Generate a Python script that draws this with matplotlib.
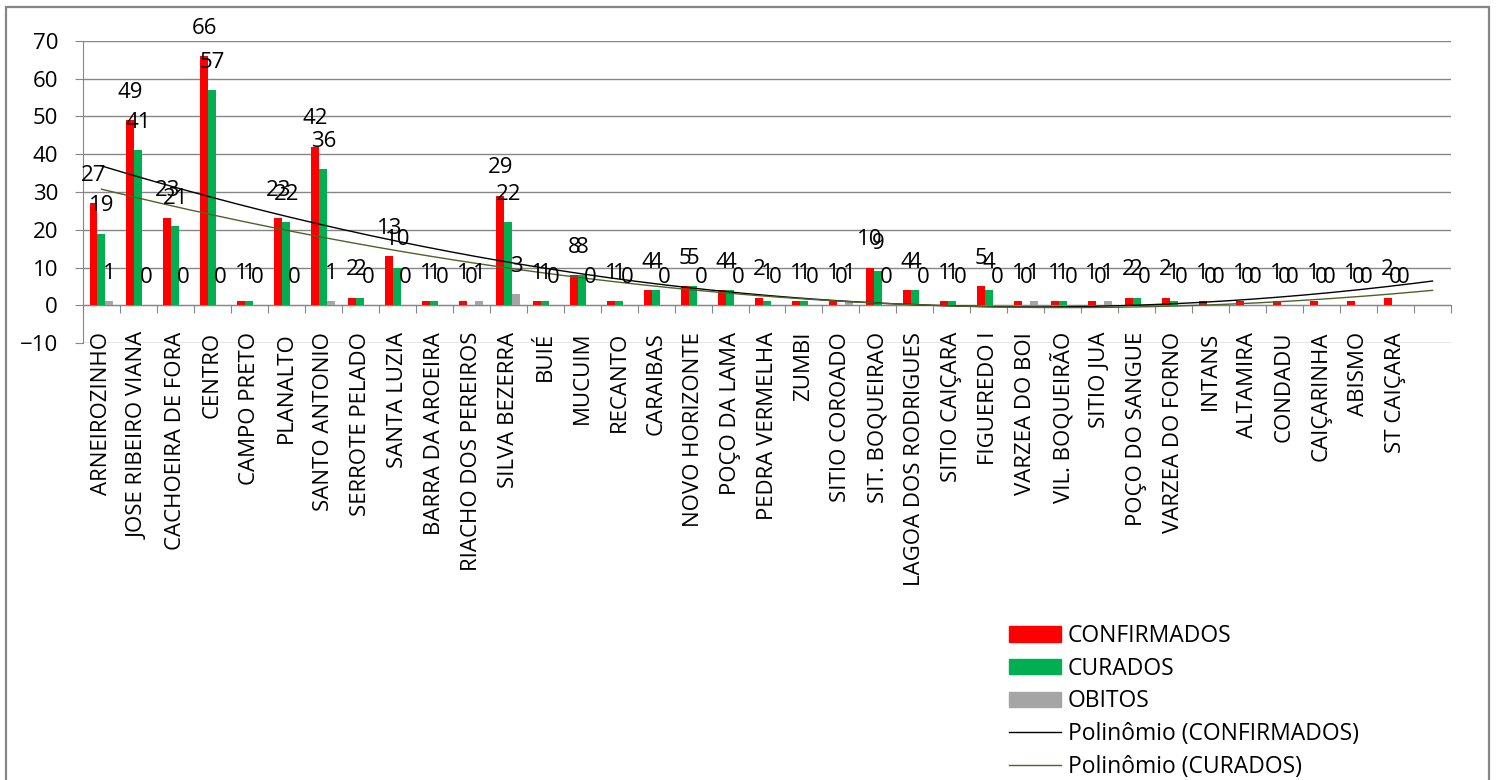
import matplotlib
matplotlib.use('Agg')
import matplotlib.pyplot as plt
from matplotlib.patches import Rectangle, Patch
from matplotlib.lines import Line2D
from matplotlib.transforms import ScaledTranslation
import numpy as np

plt.rcParams['font.family'] = ['Open Sans', 'DejaVu Sans']

# bairros / localidades
bairros = ['ARNEIROZINHO', 'JOSE RIBEIRO VIANA', 'CACHOEIRA DE FORA', 'CENTRO',
           'CAMPO PRETO', 'PLANALTO', 'SANTO ANTONIO', 'SERROTE PELADO',
           'SANTA LUZIA', 'BARRA DA AROEIRA', 'RIACHO DOS PEREIROS', 'SILVA BEZERRA',
           'BUIÉ', 'MUCUIM', 'RECANTO', 'CARAIBAS', 'NOVO HORIZONTE', 'POÇO DA LAMA',
           'PEDRA VERMELHA', 'ZUMBI', 'SITIO COROADO', 'SIT. BOQUEIRAO',
           'LAGOA DOS RODRIGUES', 'SITIO CAIÇARA', 'FIGUEREDO I', 'VARZEA DO BOI',
           'VIL. BOQUEIRÃO', 'SITIO JUA', 'POÇO DO SANGUE', 'VARZEA DO FORNO',
           'INTANS', 'ALTAMIRA', 'CONDADU', 'CAIÇARINHA', 'ABISMO', 'ST CAIÇARA', '']

confirmados = [27, 49, 23, 66, 1, 23, 42, 2, 13, 1, 1, 29, 1, 8, 1, 4, 5, 4, 2, 1, 1,
               10, 4, 1, 5, 1, 1, 1, 2, 2, 1, 1, 1, 1, 1, 2]
curados = [19, 41, 21, 57, 1, 22, 36, 2, 10, 1, 0, 22, 1, 8, 1, 4, 5, 4, 1, 1, 0,
           9, 4, 1, 4, 0, 1, 0, 2, 1, 0, 0, 0, 0, 0, 0]
obitos = [1, 0, 0, 0, 0, 0, 1, 0, 0, 0, 1, 3, 0, 0, 0, 0, 0, 0, 0, 0, 1,
          0, 0, 0, 0, 1, 0, 1, 0, 0, 0, 0, 0, 0, 0, 0]

VERMELHO = '#FF0000'
VERDE = '#00B050'
CINZA = '#A5A5A5'
GRADE = '#868686'
FONTE = 16

fig = plt.figure(figsize=(14.96, 7.8), dpi=100)
ax = fig.add_axes([83 / 1496, 1 - 343 / 780, (1451 - 83) / 1496, (343 - 41) / 780])

x = np.arange(1, len(confirmados) + 1)
w = 0.216
series = [(confirmados, VERMELHO, -w), (curados, VERDE, 0), (obitos, CINZA, w)]
for vals, cor, off in series:
    bars = ax.bar(x + off, vals, width=w, color=cor, zorder=3)
    for b, v in zip(bars, vals):
        ax.annotate(str(v), (b.get_x() + b.get_width() / 2, v), xytext=(0, 20),
                    textcoords='offset points', ha='center', va='center',
                    fontsize=FONTE, zorder=5)

# linhas de tendencia polinomial (ordem 2), como no Excel
xt = np.linspace(1, len(bairros), 200)
coef_conf = np.polyfit(x, confirmados, 2)
coef_cur = np.polyfit(x, curados, 2)
ax.plot(xt, np.polyval(coef_conf, xt), color='black', lw=1.0, zorder=4)
ax.plot(xt, np.polyval(coef_cur, xt), color='#4F6228', lw=1.0, zorder=4)

ax.set_xlim(0.5, len(bairros) + 0.5)
ax.set_ylim(-10, 70)
ax.set_yticks(range(-10, 71, 10))
ax.yaxis.grid(True, color=GRADE, lw=1.0, zorder=0)
ax.tick_params(axis='y', length=6, color=GRADE, labelsize=FONTE, pad=12)
ax.set_xticks([])
for s in ['top', 'right', 'bottom']:
    ax.spines[s].set_visible(False)
ax.spines['left'].set_color(GRADE)

# nomes das localidades: sobem um pouco sobre a linha do -10, como no original
sobe = ax.get_xaxis_transform() + ScaledTranslation(0, 8 / 72, fig.dpi_scale_trans)
for i, nome in enumerate(bairros):
    ax.text(i + 1, 0, nome, transform=sobe, rotation=90, ha='center', va='top',
            fontsize=FONTE, clip_on=False)

# eixo das categorias passando pelo zero
eixo0 = ax.secondary_xaxis(10 / 80)
eixo0.set_xticks(np.arange(0.5, len(bairros) + 1, 1))
eixo0.set_xticklabels([])
eixo0.tick_params(length=6, color=GRADE, direction='out')
eixo0.spines['bottom'].set_color(GRADE)

handles = [Patch(color=VERMELHO), Patch(color=VERDE), Patch(color=CINZA),
           Line2D([], [], color='black', lw=1.0), Line2D([], [], color='#4F6228', lw=1.0)]
nomes = ['CONFIRMADOS', 'CURADOS', 'OBITOS', 'Polinômio (CONFIRMADOS)', 'Polinômio (CURADOS)']
fig.legend(handles, nomes, loc='upper left', bbox_to_anchor=(1009 / 1496, 1 - 624 / 780),
           frameon=False, fontsize=16.5, handlelength=2.27, handleheight=0.65,
           handletextpad=0.3, labelspacing=0.38, borderpad=0, borderaxespad=0)

# moldura da area do grafico
fig.patches.append(Rectangle((6 / 1496, -0.05), 1483 / 1496, 1.05 - 7 / 780,
                             transform=fig.transFigure, fill=False,
                             edgecolor=GRADE, lw=1.6))

fig.savefig('out.png', dpi=100)
